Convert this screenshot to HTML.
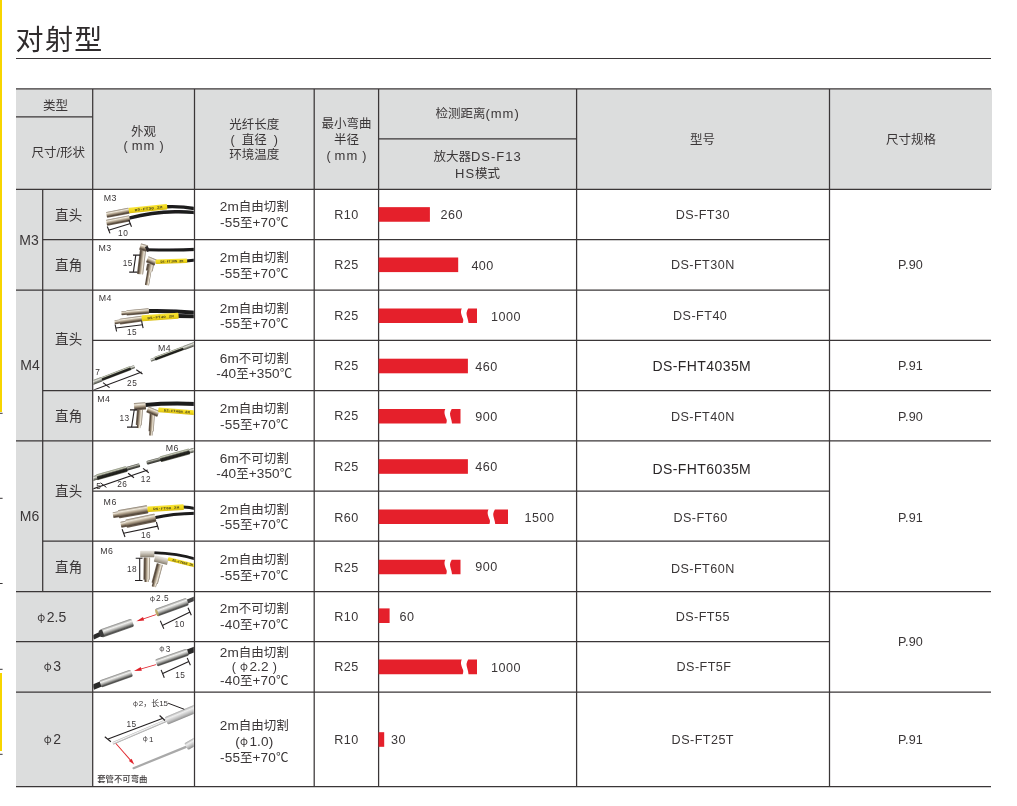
<!DOCTYPE html>
<html lang="zh-CN">
<head>
<meta charset="utf-8">
<title>对射型</title>
<style>
html,body{margin:0;padding:0;background:#fff;}
body{width:1017px;height:806px;overflow:hidden;position:relative;
 font-family:"Liberation Sans","Noto Sans CJK SC",sans-serif;color:#3a3637;}
#page{position:absolute;left:0;top:0;width:1017px;height:806px;overflow:hidden;background:#fff;}
.g{position:absolute;background:#dcdddd;}
.t{position:absolute;transform:translate(-50%,-50%);white-space:nowrap;text-align:center;
 font-size:12.6px;line-height:15px;letter-spacing:0.45px;}
.f{font-size:12.5px;line-height:15.6px;letter-spacing:0;}
.fl{font-size:13.6px;letter-spacing:0.1px;line-height:0;}
.f3{line-height:14px}.f4{line-height:16px}
.h{font-size:12.5px;line-height:15px;letter-spacing:0;}
.h2{line-height:14.4px}.h3{line-height:16px}.h4{line-height:16.4px}
.lw{letter-spacing:1px;font-size:13px;line-height:0}
.k{font-size:13.5px;letter-spacing:0.2px;}
.m{font-size:14px;letter-spacing:0.1px;}
.big{font-size:14px;letter-spacing:0.42px;color:#2a2627;}
.p{letter-spacing:0.15px}
.title{position:absolute;left:15.5px;top:20.5px;font-size:28px;line-height:40px;font-weight:400;letter-spacing:1.4px;color:#2f2b2c;white-space:nowrap;}
svg{position:absolute;left:0;top:0;}
.ph{line-height:0;font-family:"Noto Sans CJK SC","Liberation Sans",sans-serif;font-size:10.5px;position:relative;top:-1.2px;margin-right:1.5px;letter-spacing:0;}
.pl{margin-right:4px}.pr{margin-left:4px}.pl2{margin-right:7px}.pr2{margin-left:7px}
</style>
</head>
<body>
<div id="page">

<div style="position:absolute;left:0;top:0;width:2.4px;height:412px;background:#f7d500"></div>
<div style="position:absolute;left:0;top:673px;width:2.4px;height:78px;background:#f7d500"></div>
<div class="title">对射型</div>
<div class="g" style="left:16px;top:88.9px;width:975.9px;height:100.4px"></div>
<div class="g" style="left:16px;top:189.3px;width:76.7px;height:597.3px"></div>
<div class="t h" style="left:55.6px;top:106px">类型</div>
<div class="t h" style="left:58.3px;top:153.4px">尺寸/形状</div>
<div class="t h h2" style="left:143.6px;top:138.9px">外观<br><span class="pl">(</span><span class="lw">mm</span><span class="pr">)</span></div>
<div class="t h" style="left:254.3px;top:139.8px">光纤长度<br><span class="pl2">(</span>直径<span class="pr2">)</span><br>环境温度</div>
<div class="t h h3" style="left:346.4px;top:139.6px">最小弯曲<br>半径<br><span class="pl">(</span><span class="lw">mm</span><span class="pr">)</span></div>
<div class="t h" style="left:477.6px;top:114.4px">检测距离<span class="lw">(mm)</span></div>
<div class="t h h4" style="left:477.6px;top:165.2px">放大器<span class="lw">DS-F13</span><br><span class="lw">HS</span>模式</div>
<div class="t h" style="left:702.6px;top:140.2px">型号</div>
<div class="t h" style="left:911px;top:140.2px">尺寸规格</div>
<div class="t m" style="left:29px;top:240.05px">M3</div>
<div class="t m" style="left:30px;top:365px">M4</div>
<div class="t m" style="left:29.5px;top:516.45px">M6</div>
<div class="t k" style="left:68.7px;top:214.55px">直头</div>
<div class="t k" style="left:68.7px;top:265.4px">直角</div>
<div class="t k" style="left:68.7px;top:339.45px">直头</div>
<div class="t k" style="left:68.7px;top:416.25px">直角</div>
<div class="t k" style="left:68.7px;top:490.8px">直头</div>
<div class="t k" style="left:68.7px;top:567.35px">直角</div>
<div class="t m" style="left:51.8px;top:617.2px"><span class="ph">φ</span>2.5</div>
<div class="t m" style="left:52.4px;top:666.05px"><span class="ph">φ</span>3</div>
<div class="t m" style="left:52.4px;top:738.7px"><span class="ph">φ</span>2</div>
<div class="t f" style="left:254.3px;top:216.45px"><span class="fl">2m</span>自由切割<br><span class="fl">-55</span>至<span class="fl">+70</span>℃</div>
<div class="t " style="left:346.4px;top:215.05px">R10</div>
<div class="t " style="left:451.8px;top:215.45px">260</div>
<div class="t " style="left:702.8px;top:215.35px">DS-FT30</div>
<div class="t f" style="left:254.3px;top:267.1px"><span class="fl">2m</span>自由切割<br><span class="fl">-55</span>至<span class="fl">+70</span>℃</div>
<div class="t " style="left:346.4px;top:265.4px">R25</div>
<div class="t " style="left:482.6px;top:265.8px">400</div>
<div class="t " style="left:702.8px;top:265.1px">DS-FT30N</div>
<div class="t f" style="left:254.3px;top:317.85px"><span class="fl">2m</span>自由切割<br><span class="fl">-55</span>至<span class="fl">+70</span>℃</div>
<div class="t " style="left:346.4px;top:315.75px">R25</div>
<div class="t " style="left:506px;top:316.75px">1000</div>
<div class="t " style="left:700.2px;top:316.05px">DS-FT40</div>
<div class="t f" style="left:254.3px;top:367.7px"><span class="fl">6m</span>不可切割<br><span class="fl">-40</span>至<span class="fl">+350</span>℃</div>
<div class="t " style="left:346.4px;top:366px">R25</div>
<div class="t " style="left:486.5px;top:366.8px">460</div>
<div class="t big" style="left:701.8px;top:366.3px">DS-FHT4035M</div>
<div class="t f" style="left:254.3px;top:418.35px"><span class="fl">2m</span>自由切割<br><span class="fl">-55</span>至<span class="fl">+70</span>℃</div>
<div class="t " style="left:346.4px;top:416.25px">R25</div>
<div class="t " style="left:486.5px;top:416.65px">900</div>
<div class="t " style="left:702.8px;top:416.55px">DS-FT40N</div>
<div class="t f" style="left:254.3px;top:467.6px"><span class="fl">6m</span>不可切割<br><span class="fl">-40</span>至<span class="fl">+350</span>℃</div>
<div class="t " style="left:346.4px;top:466.5px">R25</div>
<div class="t " style="left:486.5px;top:467.3px">460</div>
<div class="t big" style="left:701.8px;top:468.6px">DS-FHT6035M</div>
<div class="t f" style="left:254.3px;top:518.8px"><span class="fl">2m</span>自由切割<br><span class="fl">-55</span>至<span class="fl">+70</span>℃</div>
<div class="t " style="left:346.4px;top:517.5px">R60</div>
<div class="t " style="left:539.5px;top:518.1px">1500</div>
<div class="t " style="left:700.6px;top:518.2px">DS-FT60</div>
<div class="t f" style="left:254.3px;top:569.05px"><span class="fl">2m</span>自由切割<br><span class="fl">-55</span>至<span class="fl">+70</span>℃</div>
<div class="t " style="left:346.4px;top:567.95px">R25</div>
<div class="t " style="left:486.5px;top:567.35px">900</div>
<div class="t " style="left:702.8px;top:569.25px">DS-FT60N</div>
<div class="t f" style="left:254.3px;top:618.3px"><span class="fl">2m</span>不可切割<br><span class="fl">-40</span>至<span class="fl">+70</span>℃</div>
<div class="t " style="left:346.4px;top:617.2px">R10</div>
<div class="t " style="left:407px;top:617.2px">60</div>
<div class="t " style="left:702.8px;top:617.1px">DS-FT55</div>
<div class="t f f3" style="left:254.3px;top:666.95px"><span class="fl">2m</span>自由切割<br><span class="pl">(</span><span class="ph">φ</span><span class="fl">2.2</span><span class="pr">)</span><br><span class="fl">-40</span>至<span class="fl">+70</span>℃</div>
<div class="t " style="left:346.4px;top:667.45px">R25</div>
<div class="t " style="left:506px;top:667.85px">1000</div>
<div class="t " style="left:704px;top:667.15px">DS-FT5F</div>
<div class="t f f4" style="left:254.3px;top:742.4px"><span class="fl">2m</span>自由切割<br><span class="fl">(</span><span class="ph">φ</span><span class="fl">1.0)</span><br><span class="fl">-55</span>至<span class="fl">+70</span>℃</div>
<div class="t " style="left:346.4px;top:739.9px">R10</div>
<div class="t " style="left:398.5px;top:740.3px">30</div>
<div class="t " style="left:702.8px;top:740.2px">DS-FT25T</div>
<div class="t p" style="left:910.5px;top:265.4px">P.90</div>
<div class="t p" style="left:910.5px;top:365.8px">P.91</div>
<div class="t p" style="left:910.5px;top:417.25px">P.90</div>
<div class="t p" style="left:910.5px;top:518.35px">P.91</div>
<div class="t p" style="left:910.5px;top:642.15px">P.90</div>
<div class="t p" style="left:910.5px;top:740.1px">P.91</div>
<svg width="1017" height="806" viewBox="0 0 1017 806">
<g stroke="#3a3637" stroke-width="1.25" fill="none" shape-rendering="auto">
<line x1="16" y1="58.5" x2="991" y2="58.5" stroke-width="1.1"/>
<line x1="16" y1="88.9" x2="991" y2="88.9"/>
<line x1="16" y1="116.9" x2="92.7" y2="116.9"/>
<line x1="378.6" y1="138.9" x2="576.6" y2="138.9"/>
<line x1="16" y1="189.3" x2="991" y2="189.3"/>
<line x1="42.7" y1="239.6" x2="829.5" y2="239.6"/>
<line x1="16" y1="290" x2="829.5" y2="290"/>
<line x1="92.7" y1="340.3" x2="991" y2="340.3"/>
<line x1="42.7" y1="390.5" x2="991" y2="390.5"/>
<line x1="16" y1="440.8" x2="991" y2="440.8"/>
<line x1="92.7" y1="491" x2="829.5" y2="491"/>
<line x1="42.7" y1="541.2" x2="829.5" y2="541.2"/>
<line x1="16" y1="591.5" x2="991" y2="591.5"/>
<line x1="16" y1="641.7" x2="829.5" y2="641.7"/>
<line x1="16" y1="692" x2="991" y2="692"/>
<line x1="16" y1="786.6" x2="991" y2="786.6"/>
<line x1="42.7" y1="189.3" x2="42.7" y2="591.5"/>
<line x1="92.7" y1="88.9" x2="92.7" y2="786.6"/>
<line x1="194.5" y1="88.9" x2="194.5" y2="786.6"/>
<line x1="314.2" y1="88.9" x2="314.2" y2="786.6"/>
<line x1="378.6" y1="88.9" x2="378.6" y2="786.6"/>
<line x1="576.6" y1="88.9" x2="576.6" y2="786.6"/>
<line x1="829.5" y1="88.9" x2="829.5" y2="786.6"/>
</g>
<g stroke="#3a3637" stroke-width="1" fill="none">
<line x1="0" y1="413.3" x2="2.6" y2="413.3"/>
<line x1="0" y1="498.3" x2="2.6" y2="498.3"/>
<line x1="0" y1="583.5" x2="2.6" y2="583.5"/>
<line x1="0" y1="669.3" x2="2.6" y2="669.3"/>
<line x1="0" y1="754.3" x2="2.6" y2="754.3"/>
</g>
<g fill="#e5202b">
<rect x="378.6" y="207.15" width="51.3" height="14.6"/>
<rect x="378.6" y="257.5" width="79.6" height="14.6"/>
<path d="M378.6,308.45 L461.8,308.45 C459.9,311.95 461.7,315.45 463.1,318.95 C463.5,320.45 463.1,321.95 462.7,323.05 L378.6,323.05 Z"/>
<path d="M468.2,308.45 L477,308.45 L477,323.05 L468.5,323.05 C468.3,318.95 466.3,315.45 466.5,312.95 C466.7,311.45 467.3,309.85 468.2,308.45 Z"/>
<rect x="378.6" y="358.7" width="89.3" height="14.6"/>
<path d="M378.6,408.95 L445.3,408.95 C443.4,412.45 445.2,415.95 446.6,419.45 C447,420.95 446.6,422.45 446.2,423.55 L378.6,423.55 Z"/>
<path d="M451.7,408.95 L460.5,408.95 L460.5,423.55 L452,423.55 C451.8,419.45 449.8,415.95 450,413.45 C450.2,411.95 450.8,410.35 451.7,408.95 Z"/>
<rect x="378.6" y="459.2" width="89.3" height="14.6"/>
<path d="M378.6,509.4 L488.5,509.4 C486.6,512.9 488.4,516.4 489.8,519.9 C490.2,521.4 489.8,522.9 489.4,524 L378.6,524 Z"/>
<path d="M494.9,509.4 L508,509.4 L508,524 L495.2,524 C495,519.9 493,516.4 493.2,513.9 C493.4,512.4 494,510.8 494.9,509.4 Z"/>
<path d="M378.6,559.65 L445.3,559.65 C443.4,563.15 445.2,566.65 446.6,570.15 C447,571.65 446.6,573.15 446.2,574.25 L378.6,574.25 Z"/>
<path d="M451.7,559.65 L460.5,559.65 L460.5,574.25 L452,574.25 C451.8,570.15 449.8,566.65 450,564.15 C450.2,562.65 450.8,561.05 451.7,559.65 Z"/>
<rect x="378.6" y="608.4" width="11" height="14.6"/>
<path d="M378.6,659.55 L461.8,659.55 C459.9,663.05 461.7,666.55 463.1,670.05 C463.5,671.55 463.1,673.05 462.7,674.15 L378.6,674.15 Z"/>
<path d="M468.2,659.55 L477,659.55 L477,674.15 L468.5,674.15 C468.3,670.05 466.3,666.55 466.5,664.05 C466.7,662.55 467.3,660.95 468.2,659.55 Z"/>
<rect x="378.6" y="732.2" width="5.6" height="14.6"/>
</g>
<defs>
<linearGradient id="mt" x1="0" y1="0" x2="0" y2="1">
<stop offset="0" stop-color="#85796a"/><stop offset="0.24" stop-color="#efe8da"/><stop offset="0.5" stop-color="#b0a18b"/><stop offset="0.8" stop-color="#54473a"/><stop offset="1" stop-color="#75685a"/>
</linearGradient>
<linearGradient id="ms" x1="0" y1="0" x2="0" y2="1">
<stop offset="0" stop-color="#8a8a88"/><stop offset="0.3" stop-color="#f2f2f0"/><stop offset="0.55" stop-color="#b5b5b2"/><stop offset="0.85" stop-color="#4e4e4c"/><stop offset="1" stop-color="#6c6c6a"/>
</linearGradient>
<linearGradient id="mh" x1="0" y1="0" x2="1" y2="0">
<stop offset="0" stop-color="#8f867d"/><stop offset="0.3" stop-color="#e4dfd8"/><stop offset="0.6" stop-color="#aaa197"/><stop offset="0.9" stop-color="#6d645c"/><stop offset="1" stop-color="#90877e"/>
</linearGradient>
<linearGradient id="hd" x1="0" y1="0" x2="0" y2="1">
<stop offset="0" stop-color="#e9e6e0"/><stop offset="0.35" stop-color="#cfcac1"/><stop offset="0.8" stop-color="#a09889"/><stop offset="1" stop-color="#7f776b"/>
</linearGradient>
<linearGradient id="rod" x1="0" y1="0" x2="0" y2="1">
<stop offset="0" stop-color="#7c7f74"/><stop offset="0.35" stop-color="#dfe0d8"/><stop offset="0.7" stop-color="#7f8177"/><stop offset="1" stop-color="#4b4c45"/>
</linearGradient>
<linearGradient id="rod2" x1="0" y1="0" x2="0" y2="1">
<stop offset="0" stop-color="#5d5e55"/><stop offset="0.3" stop-color="#b4b5aa"/><stop offset="0.6" stop-color="#55564e"/><stop offset="1" stop-color="#2f2f2b"/>
</linearGradient>
<linearGradient id="dk" x1="0" y1="0" x2="0" y2="1">
<stop offset="0" stop-color="#8a8f7c"/><stop offset="0.22" stop-color="#c3c7b4"/><stop offset="0.45" stop-color="#2b2b26"/><stop offset="0.8" stop-color="#1b1b18"/><stop offset="1" stop-color="#6f7165"/>
</linearGradient>
<linearGradient id="yl" x1="0" y1="0" x2="0" y2="1">
<stop offset="0" stop-color="#f6e23a"/><stop offset="0.5" stop-color="#f4dc1c"/><stop offset="1" stop-color="#d9bd10"/>
</linearGradient>
<linearGradient id="lt" x1="0" y1="0" x2="0" y2="1">
<stop offset="0" stop-color="#a9a9a9"/><stop offset="0.3" stop-color="#eeeeee"/><stop offset="0.65" stop-color="#c4c4c4"/><stop offset="1" stop-color="#8e8e8e"/>
</linearGradient>
<linearGradient id="wt" x1="0" y1="0" x2="0" y2="1">
<stop offset="0" stop-color="#b4b4b4"/><stop offset="0.4" stop-color="#f6f6f6"/><stop offset="1" stop-color="#989898"/>
</linearGradient>
<filter id="bl" x="-5%" y="-5%" width="110%" height="110%"><feGaussianBlur stdDeviation="0.35"/></filter>
</defs><g font-family="Liberation Sans,Noto Sans CJK SC,sans-serif"><svg x="93.4" y="190" width="100.4" height="48.9" viewBox="93.4 190 100.4 48.9"><g filter="url(#bl)"><path d="M167,206.7 C178,206.2 187,207.2 196,208.8" stroke="#1b1a1c" stroke-width="3.4" fill="none" stroke-linecap="butt"/><path d="M129,218.2 C143,214.5 160,212 175,211.8 S190,212.2 196,212.8" stroke="#1b1a1c" stroke-width="3.4" fill="none" stroke-linecap="butt"/><rect transform="translate(106.50,215.00) rotate(-10.97)" x="0" y="-3.00" width="23.12" height="6.00" rx="0.6" fill="url(#mt)"/><rect transform="translate(106.50,222.90) rotate(-11.26)" x="0" y="-3.10" width="23.55" height="6.20" rx="0.6" fill="url(#mt)"/><g transform="translate(128.80,210.60) rotate(-5.95)"><rect x="0" y="-2.80" width="38.61" height="5.60" rx="0.8" fill="url(#yl)"/><text x="19.80" y="1.15" font-size="3.4" font-weight="bold" textLength="27.80" lengthAdjust="spacingAndGlyphs" fill="#4a4420" text-anchor="middle" font-family="Liberation Mono,monospace">DS-FT30 2M</text></g></g><g stroke="#231f20" stroke-width="1.1" fill="none"><line x1="108.50" y1="230.30" x2="130.50" y2="223.50"/><line x1="107.30" y1="226.50" x2="110.00" y2="233.40"/><line x1="128.80" y1="220.00" x2="131.50" y2="226.80"/></g><text x="110.40" y="201.42" font-size="8.8" letter-spacing="0.5" fill="#3a3637" text-anchor="middle" >M3</text><text x="123.20" y="235.55" font-size="8.3" letter-spacing="0.5" fill="#3a3637" text-anchor="middle" >10</text></svg><svg x="93.4" y="240.3" width="100.4" height="49" viewBox="93.4 240.3 100.4 49"><g filter="url(#bl)"><path d="M147,249.7 C160,250.0 180,250.2 196,249.4" stroke="#1b1a1c" stroke-width="3.1" fill="none" stroke-linecap="butt"/><path d="M186,261.0 L196,260.0" stroke="#1b1a1c" stroke-width="3" fill="none" stroke-linecap="butt"/><rect transform="translate(143.00,250.00) rotate(97.07)" x="0" y="-3.10" width="24.39" height="6.20" rx="0.6" fill="url(#mt)"/><rect transform="translate(140.00,246.60) rotate(15.12)" x="0" y="-3.30" width="7.67" height="6.60" rx="0.6" fill="url(#mt)"/><rect transform="translate(146.20,246.40) rotate(64.36)" x="0" y="-1.50" width="5.55" height="3.00" rx="0.6" fill="#2a2828"/><rect transform="translate(150.60,264.00) rotate(101.31)" x="0" y="-3.50" width="7.14" height="7.00" rx="0.6" fill="url(#mt)"/><rect transform="translate(149.40,270.50) rotate(99.65)" x="0" y="-2.10" width="14.91" height="4.20" rx="0.6" fill="url(#mt)"/><rect transform="translate(147.20,259.20) rotate(23.20)" x="0" y="-3.30" width="9.14" height="6.60" rx="0.6" fill="url(#mt)"/><g transform="translate(155.60,261.70) rotate(-1.63)"><rect x="0" y="-2.30" width="31.61" height="4.60" rx="0.8" fill="url(#yl)"/><text x="16.31" y="1.15" font-size="3.4" font-weight="bold" textLength="22.76" lengthAdjust="spacingAndGlyphs" fill="#4a4420" text-anchor="middle" font-family="Liberation Mono,monospace">DS-FT30N 2M</text></g></g><g stroke="#231f20" stroke-width="1.1" fill="none"><line x1="135.80" y1="255.10" x2="133.40" y2="271.90"/><line x1="133.00" y1="255.10" x2="140.00" y2="255.10"/><line x1="129.20" y1="272.10" x2="137.40" y2="272.10"/></g><text x="105.10" y="251.22" font-size="8.8" letter-spacing="0.5" fill="#3a3637" text-anchor="middle" >M3</text><text x="127.80" y="265.55" font-size="8.3" letter-spacing="0.5" fill="#3a3637" text-anchor="middle" >15</text></svg><svg x="93.4" y="290.7" width="100.4" height="48.9" viewBox="93.4 290.7 100.4 48.9"><g filter="url(#bl)"><path d="M148,311 C165,310.7 182,311.4 196,312.6" stroke="#1b1a1c" stroke-width="3.9" fill="none" stroke-linecap="butt"/><path d="M177,316.0 L196,316.4" stroke="#1b1a1c" stroke-width="3.9" fill="none" stroke-linecap="butt"/><rect transform="translate(121.40,313.30) rotate(-4.69)" x="0" y="-1.90" width="6.12" height="3.80" rx="0.6" fill="url(#mt)"/><rect transform="translate(126.50,312.90) rotate(-4.83)" x="0" y="-2.70" width="22.58" height="5.40" rx="0.6" fill="url(#mt)"/><rect transform="translate(114.60,322.30) rotate(-7.59)" x="0" y="-2.00" width="6.05" height="4.00" rx="0.6" fill="url(#mt)"/><rect transform="translate(119.80,321.60) rotate(-7.63)" x="0" y="-2.90" width="22.60" height="5.80" rx="0.6" fill="url(#mt)"/><g transform="translate(141.70,318.40) rotate(-4.18)"><rect x="0" y="-3.00" width="37.00" height="6.00" rx="0.8" fill="url(#yl)"/><text x="19.00" y="1.15" font-size="3.4" font-weight="bold" textLength="26.64" lengthAdjust="spacingAndGlyphs" fill="#4a4420" text-anchor="middle" font-family="Liberation Mono,monospace">DS-FT40 2M</text></g></g><g stroke="#231f20" stroke-width="1.1" fill="none"><line x1="115.90" y1="328.00" x2="142.60" y2="324.80"/><line x1="115.10" y1="324.50" x2="116.60" y2="331.50"/><line x1="141.60" y1="321.20" x2="143.10" y2="328.20"/></g><text x="105.30" y="301.02" font-size="8.8" letter-spacing="0.5" fill="#3a3637" text-anchor="middle" >M4</text><text x="132.00" y="334.95" font-size="8.3" letter-spacing="0.5" fill="#3a3637" text-anchor="middle" >15</text></svg><svg x="93.4" y="341" width="100.4" height="48.8" viewBox="93.4 341 100.4 48.8"><g filter="url(#bl)"><rect transform="translate(150.70,360.30) rotate(-20.35)" x="0" y="-1.50" width="48.31" height="3.00" rx="0.6" fill="url(#rod)"/><rect transform="translate(154.80,358.80) rotate(-20.34)" x="0" y="-1.95" width="30.50" height="3.90" rx="0.6" fill="url(#dk)"/><rect transform="translate(183.40,348.20) rotate(-20.51)" x="0" y="-2.10" width="13.99" height="4.20" rx="0.6" fill="url(#rod)"/><rect transform="translate(91.00,383.20) rotate(-20.96)" x="0" y="-1.60" width="46.69" height="3.20" rx="0.6" fill="url(#rod)"/><rect transform="translate(91.00,383.20) rotate(-20.79)" x="0" y="-2.30" width="11.55" height="4.60" rx="0.6" fill="url(#rod)"/><rect transform="translate(101.80,379.10) rotate(-21.08)" x="0" y="-2.05" width="30.87" height="4.10" rx="0.6" fill="url(#dk)"/></g><g stroke="#231f20" stroke-width="1.1" fill="none"><line x1="92.00" y1="390.60" x2="141.70" y2="371.90"/><line x1="103.00" y1="382.60" x2="109.60" y2="387.60"/><line x1="136.30" y1="369.70" x2="142.50" y2="374.00"/></g><text x="164.60" y="351.12" font-size="8.8" letter-spacing="0.5" fill="#3a3637" text-anchor="middle" >M4</text><text x="132.20" y="385.75" font-size="8.3" letter-spacing="0.5" fill="#3a3637" text-anchor="middle" >25</text><text x="97.80" y="375.45" font-size="8.3" letter-spacing="0.5" fill="#3a3637" text-anchor="middle" >7</text></svg><svg x="93.4" y="391.2" width="100.4" height="48.9" viewBox="93.4 391.2 100.4 48.9"><g filter="url(#bl)"><path d="M145,405.0 C160,403.6 180,403.2 196,404.0" stroke="#1b1a1c" stroke-width="4" fill="none" stroke-linecap="butt"/><rect transform="translate(140.10,409.00) rotate(94.94)" x="0" y="-3.00" width="16.26" height="6.00" rx="0.6" fill="url(#mt)"/><rect transform="translate(138.80,424.60) rotate(94.76)" x="0" y="-1.80" width="3.61" height="3.60" rx="0.6" fill="url(#mt)"/><rect transform="translate(134.10,406.80) rotate(-4.89)" x="0" y="-3.70" width="11.74" height="7.40" rx="0.6" fill="url(#mt)"/><rect transform="translate(152.30,413.00) rotate(93.73)" x="0" y="-2.60" width="18.44" height="5.20" rx="0.6" fill="url(#mt)"/><rect transform="translate(151.10,430.80) rotate(93.58)" x="0" y="-1.70" width="4.81" height="3.40" rx="0.6" fill="url(#mt)"/><rect transform="translate(147.40,409.40) rotate(22.69)" x="0" y="-3.20" width="11.92" height="6.40" rx="0.6" fill="url(#mt)"/><g transform="translate(158.30,409.80) rotate(4.42)"><rect x="0" y="-2.40" width="36.31" height="4.80" rx="0.8" fill="url(#yl)"/><text x="18.65" y="1.15" font-size="3.4" font-weight="bold" textLength="26.14" lengthAdjust="spacingAndGlyphs" fill="#4a4420" text-anchor="middle" font-family="Liberation Mono,monospace">DS-FT40N 2M</text></g></g><g stroke="#231f20" stroke-width="1.1" fill="none"><line x1="134.20" y1="410.00" x2="131.60" y2="427.10"/><line x1="130.00" y1="409.90" x2="137.20" y2="409.90"/><line x1="127.00" y1="427.10" x2="137.20" y2="427.10"/></g><text x="103.90" y="401.72" font-size="8.8" letter-spacing="0.5" fill="#3a3637" text-anchor="middle" >M4</text><text x="124.60" y="421.35" font-size="8.3" letter-spacing="0.5" fill="#3a3637" text-anchor="middle" >13</text></svg><svg x="93.4" y="441.5" width="100.4" height="48.8" viewBox="93.4 441.5 100.4 48.8"><g filter="url(#bl)"><rect transform="translate(146.60,462.90) rotate(-15.35)" x="0" y="-1.90" width="51.75" height="3.80" rx="1.2" fill="url(#rod2)"/><rect transform="translate(160.20,459.40) rotate(-15.40)" x="0" y="-3.00" width="30.50" height="6.00" rx="1" fill="url(#dk)"/><rect transform="translate(189.60,451.30) rotate(-15.84)" x="0" y="-2.20" width="7.69" height="4.40" rx="0.6" fill="url(#rod)"/><rect transform="translate(91.50,478.90) rotate(-15.91)" x="0" y="-1.90" width="50.33" height="3.80" rx="1.2" fill="url(#rod2)"/><rect transform="translate(96.60,477.50) rotate(-15.97)" x="0" y="-3.00" width="31.62" height="6.00" rx="1" fill="url(#dk)"/><rect transform="translate(90.50,479.30) rotate(-16.29)" x="0" y="-2.30" width="6.77" height="4.60" rx="0.6" fill="url(#rod)"/></g><g stroke="#231f20" stroke-width="1.1" fill="none"><line x1="90.00" y1="490.00" x2="147.70" y2="469.90"/><line x1="128.10" y1="473.20" x2="134.00" y2="477.70"/><line x1="143.00" y1="468.40" x2="148.80" y2="472.70"/></g><line x1="100.50" y1="482.80" x2="106.40" y2="487.40" stroke="#231f20" stroke-width="1"/><text x="172.30" y="451.12" font-size="8.8" letter-spacing="0.5" fill="#3a3637" text-anchor="middle" >M6</text><text x="122.30" y="487.05" font-size="8.3" letter-spacing="0.5" fill="#3a3637" text-anchor="middle" >26</text><text x="145.90" y="482.35" font-size="8.3" letter-spacing="0.5" fill="#3a3637" text-anchor="middle" >12</text><text x="98.80" y="489.15" font-size="8.3" letter-spacing="0.5" fill="#3a3637" text-anchor="middle" >5</text></svg><svg x="93.4" y="491.7" width="100.4" height="48.8" viewBox="93.4 491.7 100.4 48.8"><g filter="url(#bl)"><path d="M183,507.1 C188,507.4 192,508.0 196,508.8" stroke="#1b1a1c" stroke-width="3" fill="none" stroke-linecap="butt"/><path d="M154.5,517.8 C165,515.2 178,513.4 196,513.2" stroke="#1b1a1c" stroke-width="3" fill="none" stroke-linecap="butt"/><rect transform="translate(113.00,515.20) rotate(-9.61)" x="0" y="-3.00" width="6.59" height="6.00" rx="0.6" fill="url(#mt)"/><rect transform="translate(118.50,514.30) rotate(-9.68)" x="0" y="-4.20" width="29.72" height="8.40" rx="1" fill="url(#mt)"/><rect transform="translate(120.80,524.90) rotate(-11.84)" x="0" y="-3.00" width="6.33" height="6.00" rx="0.6" fill="url(#mt)"/><rect transform="translate(126.00,523.80) rotate(-11.83)" x="0" y="-4.20" width="30.24" height="8.40" rx="1" fill="url(#mt)"/><g transform="translate(147.50,509.30) rotate(-3.47)"><rect x="0" y="-2.80" width="36.37" height="5.60" rx="0.8" fill="url(#yl)"/><text x="18.68" y="1.15" font-size="3.4" font-weight="bold" textLength="26.18" lengthAdjust="spacingAndGlyphs" fill="#4a4420" text-anchor="middle" font-family="Liberation Mono,monospace">DS-FT60 2M</text></g></g><g stroke="#231f20" stroke-width="1.1" fill="none"><line x1="123.60" y1="533.20" x2="157.80" y2="526.10"/><line x1="122.10" y1="529.10" x2="125.00" y2="537.00"/><line x1="156.40" y1="522.00" x2="158.60" y2="529.70"/></g><text x="110.20" y="505.02" font-size="8.8" letter-spacing="0.5" fill="#3a3637" text-anchor="middle" >M6</text><text x="146.00" y="537.55" font-size="8.3" letter-spacing="0.5" fill="#3a3637" text-anchor="middle" >16</text></svg><svg x="93.4" y="541.9" width="100.4" height="48.9" viewBox="93.4 541.9 100.4 48.9"><g filter="url(#bl)"><path d="M153,552.6 C165,553.0 182,554.6 196,559.2" stroke="#1b1a1c" stroke-width="2.8" fill="none" stroke-linecap="butt"/><rect transform="translate(146.90,557.50) rotate(90.77)" x="0" y="-3.20" width="22.30" height="6.40" rx="0.6" fill="url(#mt)"/><rect transform="translate(146.70,579.20) rotate(90.00)" x="0" y="-2.30" width="2.80" height="4.60" rx="0.6" fill="url(#mt)"/><rect transform="translate(140.20,554.00) rotate(0.00)" x="0" y="-3.30" width="14.20" height="6.60" rx="0.6" fill="url(#hd)"/><rect transform="translate(159.80,564.00) rotate(105.00)" x="0" y="-3.20" width="20.08" height="6.40" rx="0.6" fill="url(#mt)"/><rect transform="translate(154.80,582.80) rotate(104.04)" x="0" y="-2.20" width="4.12" height="4.40" rx="0.6" fill="url(#mt)"/><rect transform="translate(154.60,558.40) rotate(14.44)" x="0" y="-3.30" width="13.63" height="6.60" rx="0.6" fill="url(#hd)"/><g transform="translate(168.00,558.80) rotate(14.18)"><rect x="0" y="-1.80" width="29.40" height="3.60" rx="0.8" fill="url(#yl)"/><text x="15.20" y="1.15" font-size="3.4" font-weight="bold" textLength="21.16" lengthAdjust="spacingAndGlyphs" fill="#4a4420" text-anchor="middle" font-family="Liberation Mono,monospace">DS-FT60N 2M</text></g></g><g stroke="#231f20" stroke-width="1.1" fill="none"><line x1="139.70" y1="558.30" x2="139.70" y2="580.40"/><line x1="135.70" y1="558.30" x2="142.50" y2="558.30"/><line x1="135.00" y1="580.50" x2="142.50" y2="580.50"/></g><text x="106.90" y="554.12" font-size="8.8" letter-spacing="0.5" fill="#3a3637" text-anchor="middle" >M6</text><text x="132.00" y="572.25" font-size="8.3" letter-spacing="0.5" fill="#3a3637" text-anchor="middle" >18</text></svg><svg x="93.4" y="592.2" width="100.4" height="48.8" viewBox="93.4 592.2 100.4 48.8"><g filter="url(#bl)"><path d="M186.5,601.9 L197,597.6" stroke="#454445" stroke-width="4.2" fill="none" stroke-linecap="butt"/><path d="M103,632.8 L93.0,637.6" stroke="#2b2a2b" stroke-width="4.4" fill="none" stroke-linecap="butt"/><rect transform="translate(156.20,612.90) rotate(-20.11)" x="0" y="-4.00" width="33.44" height="8.00" rx="1.6" fill="url(#ms)"/><ellipse cx="156.9" cy="612.7" rx="1.3" ry="3.6" transform="rotate(-20 156.9 612.7)" fill="#b9a45a" opacity="0.85"/><rect transform="translate(100.60,633.70) rotate(-19.18)" x="0" y="-4.20" width="34.09" height="8.40" rx="1.6" fill="url(#ms)"/><rect transform="translate(99.40,634.10) rotate(-18.89)" x="0" y="-3.50" width="4.02" height="7.00" rx="1.5" fill="#3a3a3a"/><g transform="translate(156.00,614.60) rotate(161.39)" fill="#e0242c" stroke="none"><rect x="0" y="-0.40" width="14.08" height="0.80"/><path d="M20.68,0 L13.08,-1.90 L13.08,1.90 Z"/></g></g><g stroke="#231f20" stroke-width="1.1" fill="none"><line x1="162.30" y1="625.40" x2="190.10" y2="611.90"/><line x1="160.30" y1="620.70" x2="163.80" y2="628.80"/><line x1="188.00" y1="607.80" x2="191.30" y2="615.30"/></g><text x="159.40" y="601.25" font-size="8.3" letter-spacing="0.5" fill="#3a3637" text-anchor="middle" ><tspan font-size="7" font-family="Noto Sans CJK SC,Liberation Sans,sans-serif" dy="-0.7">φ</tspan><tspan dy="0.7" dx="0.6">2.5</tspan></text><text x="179.70" y="627.45" font-size="8.3" letter-spacing="0.5" fill="#3a3637" text-anchor="middle" >10</text></svg><svg x="93.4" y="642.4" width="100.4" height="48.9" viewBox="93.4 642.4 100.4 48.9"><g filter="url(#bl)"><path d="M186.5,652.5 L197,648.4" stroke="#2b2a2b" stroke-width="5.4" fill="none" stroke-linecap="butt"/><path d="M102,683.5 L93.0,687.2" stroke="#2b2a2b" stroke-width="5.4" fill="none" stroke-linecap="butt"/><rect transform="translate(156.20,663.10) rotate(-19.30)" x="0" y="-3.70" width="33.59" height="7.40" rx="1.6" fill="url(#ms)"/><rect transform="translate(100.50,684.10) rotate(-19.53)" x="0" y="-3.70" width="33.21" height="7.40" rx="1.6" fill="url(#ms)"/><g transform="translate(156.00,664.70) rotate(164.02)" fill="#e0242c" stroke="none"><rect x="0" y="-0.40" width="16.28" height="0.80"/><path d="M22.88,0 L15.28,-1.90 L15.28,1.90 Z"/></g></g><g stroke="#231f20" stroke-width="1.1" fill="none"><line x1="162.70" y1="673.60" x2="188.80" y2="661.60"/><line x1="161.10" y1="669.90" x2="164.30" y2="677.80"/><line x1="187.20" y1="657.90" x2="190.40" y2="665.30"/></g><text x="165.00" y="652.15" font-size="8.3" letter-spacing="0.5" fill="#3a3637" text-anchor="middle" ><tspan font-size="7" font-family="Noto Sans CJK SC,Liberation Sans,sans-serif" dy="-0.7">φ</tspan><tspan dy="0.7" dx="0.6">3</tspan></text><text x="180.30" y="678.35" font-size="8.3" letter-spacing="0.5" fill="#3a3637" text-anchor="middle" >15</text></svg><svg x="93.4" y="692.7" width="100.4" height="93.2" viewBox="93.4 692.7 100.4 93.2"><g filter="url(#bl)"><rect transform="translate(112.60,743.50) rotate(-23.19)" x="0" y="-1.40" width="59.18" height="2.80" rx="1.2" fill="url(#wt)"/><rect transform="translate(166.20,720.90) rotate(-22.41)" x="0" y="-4.10" width="33.32" height="8.20" rx="1.2" fill="url(#lt)"/><rect transform="translate(132.60,768.60) rotate(-22.11)" x="0" y="-1.10" width="58.72" height="2.20" rx="1" fill="#a9a9a9"/><rect transform="translate(186.20,746.70) rotate(-30.26)" x="0" y="-3.80" width="12.50" height="7.60" rx="1.2" fill="url(#lt)"/><g transform="translate(115.90,743.50) rotate(48.79)" fill="#e0242c" stroke="none"><rect x="0" y="-0.45" width="22.78" height="0.90"/><path d="M27.78,0 L21.78,-1.80 L21.78,1.80 Z"/></g></g><g stroke="#231f20" stroke-width="1.1" fill="none"><line x1="108.10" y1="739.00" x2="163.00" y2="718.30"/><line x1="104.80" y1="736.80" x2="110.90" y2="741.70"/><line x1="159.60" y1="715.50" x2="165.00" y2="720.50"/></g><line x1="168.10" y1="703.20" x2="184.30" y2="709.30" stroke="#231f20" stroke-width="1"/><text x="150.60" y="706.44" font-size="8" letter-spacing="0" fill="#3a3637" text-anchor="middle" ><tspan font-size="6.6" font-family="Noto Sans CJK SC,Liberation Sans,sans-serif" dy="-0.6">φ</tspan><tspan dy="0.6" dx="0.6">2，长15</tspan></text><text x="131.60" y="727.35" font-size="8.3" letter-spacing="0.5" fill="#3a3637" text-anchor="middle" >15</text><text x="148.50" y="741.84" font-size="8" letter-spacing="0.8" fill="#3a3637" text-anchor="middle" ><tspan font-size="6.6" font-family="Noto Sans CJK SC,Liberation Sans,sans-serif" dy="-0.6">φ</tspan><tspan dy="0.6" dx="0.6">1</tspan></text><text x="122.30" y="781.58" font-size="8.4" letter-spacing="0" fill="#3a3637" text-anchor="middle" font-weight="500">套管不可弯曲</text></svg></g>
</svg>
</div>
</body>
</html>
